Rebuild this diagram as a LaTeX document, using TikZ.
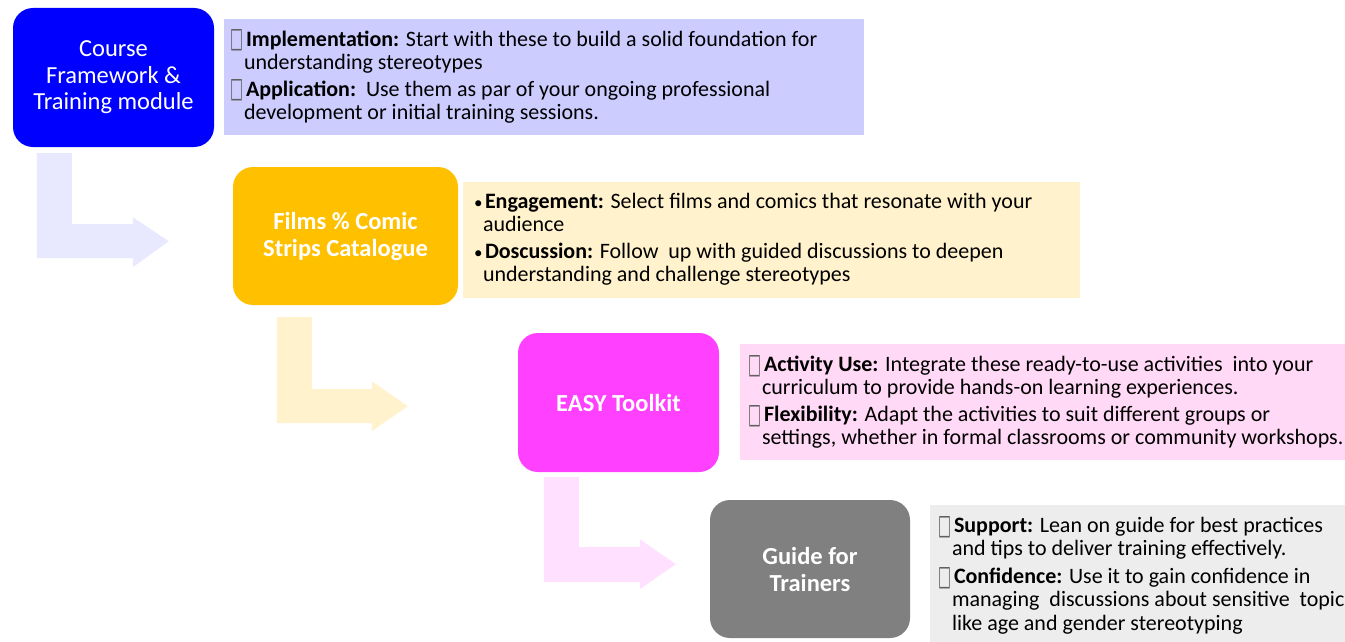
\documentclass[tikz,border=0pt]{standalone}
\usepackage{fontspec}
\usepackage{graphicx}
\setmainfont{Carlito}
\newfontfamily\dvs{DejaVu Sans}
\usetikzlibrary{calc}
\definecolor{cblue}{HTML}{0000FF}
\definecolor{clav}{HTML}{CCCCFF}
\definecolor{carr1}{HTML}{E8E8FF}
\definecolor{corange}{HTML}{FFC000}
\definecolor{cyel}{HTML}{FFF2CC}
\definecolor{cmag}{HTML}{FF40FF}
\definecolor{cpink}{HTML}{FFD9F5}
\definecolor{carr3}{HTML}{FFE1FF}
\definecolor{cgray}{HTML}{808080}
\definecolor{clgray}{HTML}{EDEDED}
\definecolor{cglyph}{HTML}{606060}
\newcommand\mbx{\makebox[16pt][l]{\textcolor{cglyph}{\raisebox{-2pt}{\resizebox{13pt}{18pt}{\dvs\char"25A1}}}}}
\newcommand\ind{\hspace*{14pt}}
\newcommand\bul{\makebox[12pt][l]{\hspace*{1pt}{\fontsize{17}{17}\selectfont•}}}
\begin{document}
\begin{tikzpicture}[x=1pt,y=-1pt,
  mainbox/.style={rounded corners=20pt, inner sep=0pt, text=white, align=center,
    font=\fontsize{24.5}{26.5}\selectfont},
  boldbox/.style={mainbox, font=\fontsize{24.5}{27}\selectfont\bfseries},
  infobox/.style={inner sep=0pt},
  infotext/.style={inner sep=0pt, anchor=north west, align=left,
    font=\fontsize{22}{23}\selectfont}]
\useasboundingbox (0,0) rectangle (1345,642);
% main boxes
\node[mainbox, fill=cblue, minimum width=201pt, minimum height=139pt] (course) at (113.5,77.5)
  {\raisebox{-2.5pt}{\parbox{190pt}{\centering Course\\Framework \&\\Training module}}};
\node[boldbox, fill=corange, minimum width=225pt, minimum height=138pt] (films) at (345.5,236)
  {Films \% Comic\\Strips Catalogue};
\node[boldbox, fill=cmag, minimum width=201pt, minimum height=139pt] (easy) at (618.5,402.5)
  {EASY Toolkit};
\node[boldbox, fill=cgray, minimum width=200pt, minimum height=138pt] (guide) at (810,569)
  {Guide for\\Trainers};
% info boxes
\node[infobox, fill=clav, minimum width=640pt, minimum height=116pt] (t1) at (544,77) {};
\node[infobox, fill=cyel, minimum width=617pt, minimum height=116pt] (t2) at (771.5,240) {};
\node[infobox, fill=cpink, minimum width=620pt, minimum height=116pt] (t3) at (1050,402) {};
\node[infobox, fill=clgray, minimum width=430pt, minimum height=145pt] (t4) at (1145,577.5) {};
% texts
\node[infotext] (t1txt) at ($(t1.north west)+(6,11)$) {%
\mbx\textbf{Implementation:} Start with these to build a solid foundation for\\
\ind understanding stereotypes\\[4pt]
\mbx\textbf{Application:}\ \ Use them as par of your ongoing professional\\
\ind development or initial training sessions.};
\node[infotext] (t2txt) at ($(t2.north west)+(10,11)$) {%
\bul\textbf{Engagement:} Select films and comics that resonate with your\\
\hspace*{10pt}audience\\[4pt]
\bul\textbf{Doscussion:} Follow\ \ up with guided discussions to deepen\\
\hspace*{10pt}understanding and challenge stereotypes};
\node[infotext] (t3txt) at ($(t3.north west)+(8,11)$) {%
\mbx\textbf{Activity Use:} Integrate these ready-to-use activities\ \ into your\\
\ind curriculum to provide hands-on learning experiences.\\[4pt]
\mbx\textbf{Flexibility:} Adapt the activities to suit different groups or\\
\ind settings, whether in formal classrooms or community workshops.};
\node[infotext, font=\fontsize{22}{23.5}\selectfont] (t4txt) at ($(t4.north west)+(8,11)$) {%
\mbx\textbf{Support:} Lean on guide for best practices\\
\ind and tips to deliver training effectively.\\[4pt]
\mbx\textbf{Confidence:} Use it to gain confidence in\\
\ind managing\ \ discussions about sensitive\ \ topic\\
\ind like age and gender stereotyping};
% bent arrows
\begin{scope}[shift={(course.south west)}]
\fill[carr1] (24,6) -- (59,6) -- (59,77) -- (120,77) -- (120,70) -- (156,94) -- (120,120)
  -- (120,111) -- (24,111) -- cycle;
\end{scope}
\begin{scope}[shift={(films.south west)}]
\fill[cyel] (44,12) -- (79,12) -- (79,84) -- (139,84) -- (139,76) -- (175,101) -- (139,126)
  -- (139,118) -- (44,118) -- cycle;
\end{scope}
\begin{scope}[shift={(easy.south west)}]
\fill[carr3] (26,5) -- (61,5) -- (61,75) -- (122,75) -- (122,67) -- (158,92) -- (122,117)
  -- (122,110) -- (26,110) -- cycle;
\end{scope}
\end{tikzpicture}
\end{document}
